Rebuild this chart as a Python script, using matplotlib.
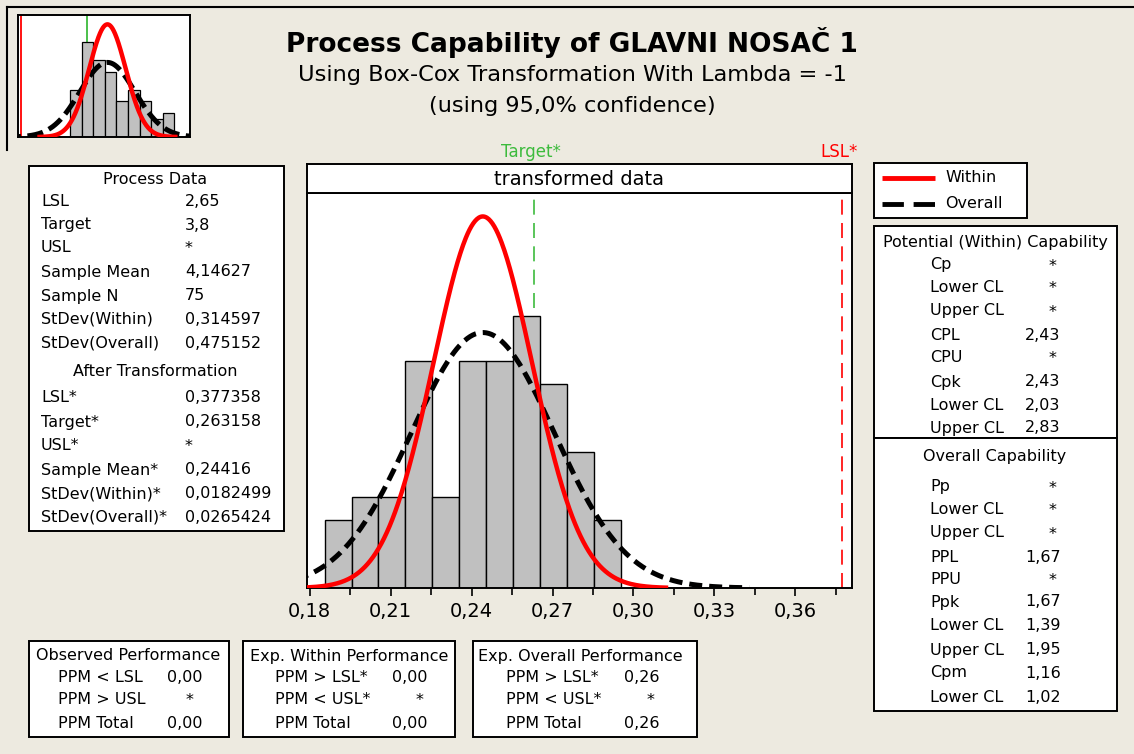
import numpy as np
import matplotlib
matplotlib.use("Agg")
import matplotlib.pyplot as plt
from matplotlib.patches import Rectangle
from matplotlib.ticker import FuncFormatter, FixedLocator

plt.rcParams["font.family"] = ["DejaVu Sans"]

W, H = 1134, 754
BG = "#EDEAE0"
RED = "#FF0000"
GREEN = "#3DBB3D"
BAR = "#C0C0C0"

# ---------------- data ----------------
lsl, target = 2.65, 3.8
sample_mean, sample_n = 4.14627, 75
sd_within, sd_overall = 0.314597, 0.475152
lsl_t, target_t = 0.377358, 0.263158
mean_t, sd_within_t, sd_overall_t = 0.24416, 0.0182499, 0.0265424

raw_bin_edges = [3.5, 3.7, 3.9, 4.1, 4.3, 4.5, 4.7, 4.9, 5.1, 5.3]
raw_counts = [8, 16, 13, 11, 6, 8, 6, 3, 4]

trans_bin_edges = [0.1855, 0.1955, 0.2055, 0.2155, 0.2255, 0.2355,
                   0.2455, 0.2555, 0.2655, 0.2755, 0.2855, 0.2955]
trans_counts = [3, 4, 4, 10, 4, 10, 10, 12, 9, 6, 3]

x_ticks = [0.18, 0.21, 0.24, 0.27, 0.30, 0.33, 0.36]

process_labels = ["LSL", "Target", "USL", "Sample Mean", "Sample N",
                  "StDev(Within)", "StDev(Overall)"]
process_values = ["2,65", "3,8", "*", "4,14627", "75", "0,314597", "0,475152"]
trans_labels = ["LSL*", "Target*", "USL*", "Sample Mean*", "StDev(Within)*",
                "StDev(Overall)*"]
trans_values = ["0,377358", "0,263158", "*", "0,24416", "0,0182499", "0,0265424"]

potential_labels = ["Cp", "Lower CL", "Upper CL", "CPL", "CPU", "Cpk",
                    "Lower CL", "Upper CL"]
potential_values = ["*", "*", "*", "2,43", "*", "2,43", "2,03", "2,83"]
overall_labels = ["Pp", "Lower CL", "Upper CL", "PPL", "PPU", "Ppk",
                  "Lower CL", "Upper CL", "Cpm", "Lower CL"]
overall_values = ["*", "*", "*", "1,67", "*", "1,67", "1,39", "1,95", "1,16", "1,02"]

observed_labels = ["PPM < LSL", "PPM > USL", "PPM Total"]
observed_values = ["0,00", "*", "0,00"]
exp_within_labels = ["PPM > LSL*", "PPM < USL*", "PPM Total"]
exp_within_values = ["0,00", "*", "0,00"]
exp_overall_labels = ["PPM > LSL*", "PPM < USL*", "PPM Total"]
exp_overall_values = ["0,26", "*", "0,26"]


def normal_curve(mu, sd, scale, k=3.72, n=400):
    x = np.linspace(mu - k * sd, mu + k * sd, n)
    y = scale * np.exp(-0.5 * ((x - mu) / sd) ** 2) / (sd * np.sqrt(2 * np.pi))
    return x, y


def fig_rect(x0, y0, x1, y1):
    """Pixel box (top-left origin) -> figure fraction rect."""
    return [x0 / W, 1 - y1 / H, (x1 - x0) / W, (y1 - y0) / H]


fig = plt.figure(figsize=(W / 100, H / 100), dpi=100, facecolor=BG)

# overlay in pixel coordinates for panels and text
ov = fig.add_axes([0, 0, 1, 1], zorder=0)
ov.set_xlim(0, W)
ov.set_ylim(H, 0)
ov.axis("off")


def box(x0, y0, x1, y1, lw=1.4):
    ov.add_patch(Rectangle((x0, y0), x1 - x0, y1 - y0, fc="white",
                           ec="black", lw=lw, zorder=1))


def txt(x, y, s, ha="left", size=11.5, **kw):
    ov.text(x, y, s, ha=ha, va="center", fontsize=size, zorder=3, **kw)


# outer frame lines
ov.plot([7, W], [7, 7], color="black", lw=1.5, zorder=2)
ov.plot([7, 7], [7, 150], color="black", lw=1.5, zorder=2)

# titles
txt(572, 42, "Process Capability of GLAVNI NOSAČ 1", ha="center", size=19,
    fontweight="bold")
txt(572, 75, "Using Box-Cox Transformation With Lambda = -1", ha="center", size=16.2)
txt(572, 106, "(using 95,0% confidence)", ha="center", size=16.2)

# ---- process data panel ----
box(29, 166, 284, 531)
txt(155, 180, "Process Data", ha="center")
row_y = [202, 225, 248, 272, 296, 319, 343]
for y, lab, val in zip(row_y, process_labels, process_values):
    txt(41, y, lab)
    txt(185, y, val)
txt(155, 372, "After Transformation", ha="center")
row_y = [398, 422, 446, 470, 494, 517]
for y, lab, val in zip(row_y, trans_labels, trans_values):
    txt(41, y, lab)
    txt(185, y, val)

# ---- legend ----
box(874, 163, 1027, 218)
ov.plot([882, 935], [178, 178], color=RED, lw=3.5, zorder=3, solid_capstyle="butt")
ov.plot([882, 935], [204, 204], color="black", lw=3.5, zorder=3,
        dashes=(4.4, 2.0), dash_capstyle="butt")
txt(945, 178, "Within")
txt(945, 204, "Overall")

# ---- capability panel ----
box(874, 226, 1117, 438)
box(874, 438, 1117, 711)
txt(995, 242, "Potential (Within) Capability", ha="center")
row_y = [265, 288, 311, 335, 358, 382, 405, 428]
for y, lab, val in zip(row_y, potential_labels, potential_values):
    txt(930, y, lab)
    if val == "*":
        txt(1053, y + 1, val, ha="center")
    else:
        txt(1025, y, val)
txt(995, 457, "Overall Capability", ha="center")
row_y = [487, 510, 533, 557, 579, 602, 626, 650, 673, 697]
for y, lab, val in zip(row_y, overall_labels, overall_values):
    txt(930, y, lab)
    if val == "*":
        txt(1053, y + 1, val, ha="center")
    else:
        txt(1025, y, val)

# ---- performance panels ----
perf = [
    ((29, 229), "Observed Performance", 36, 58, 167, 190,
     observed_labels, observed_values),
    ((243, 455), "Exp. Within Performance", 250, 275, 392, 420,
     exp_within_labels, exp_within_values),
    ((473, 697), "Exp. Overall Performance", 478, 506, 624, 651,
     exp_overall_labels, exp_overall_values),
]
for (x0, x1), title, tx, lx, vx, sx, labs, vals in perf:
    box(x0, 641, x1, 737)
    txt(tx, 656, title)
    for y, lab, val in zip([677, 700, 724], labs, vals):
        txt(lx, y, lab)
        if val == "*":
            txt(sx, y + 1, val, ha="center")
        else:
            txt(vx, y, val)

# ---- main histogram of transformed data ----
ax = fig.add_axes(fig_rect(307, 193, 852, 588), zorder=2)
ax.set_facecolor("white")
ax.set_xlim(0.179, 0.381)
ax.set_ylim(0, 17.43)
ax.axvline(target_t, color=GREEN, lw=1.2, dashes=(9, 5), zorder=1)
ax.axvline(lsl_t, color=RED, lw=1.2, dashes=(9, 5), zorder=1)
widths = np.diff(trans_bin_edges)
ax.bar(trans_bin_edges[:-1], trans_counts, width=widths, align="edge",
       color=BAR, edgecolor="black", lw=1.0, zorder=2)
bw = trans_bin_edges[1] - trans_bin_edges[0]
xo, yo = normal_curve(mean_t, sd_overall_t, sample_n * bw)
ax.plot(xo, yo, color="black", lw=3.6, dashes=(2.6, 1.4), zorder=3)
xw, yw = normal_curve(mean_t, sd_within_t, sample_n * bw)
ax.plot(xw, yw, color=RED, lw=3.2, zorder=4)
ax.xaxis.set_major_locator(FixedLocator(x_ticks))
ax.xaxis.set_minor_locator(FixedLocator([t + 0.015 for t in x_ticks]))
ax.xaxis.set_major_formatter(FuncFormatter(lambda v, p: f"{v:.2f}".replace(".", ",")))
ax.tick_params(axis="x", which="major", length=6, width=1.2, labelsize=14, pad=4)
ax.tick_params(axis="x", which="minor", length=5, width=1.2)
ax.set_yticks([])
for s in ax.spines.values():
    s.set_linewidth(1.4)

# strip header
strip = fig.add_axes(fig_rect(307, 164, 852, 193), zorder=2)
strip.set_xticks([])
strip.set_yticks([])
strip.set_facecolor("white")
for s in strip.spines.values():
    s.set_linewidth(1.4)
strip.text(0.5, 0.48, "transformed data", ha="center", va="center",
           fontsize=14, transform=strip.transAxes)

txt(531, 152, "Target*", ha="center", size=12, color=GREEN)
txt(839, 152, "LSL*", ha="center", size=12, color=RED)

# ---- thumbnail of raw data ----
th = fig.add_axes(fig_rect(18, 15, 190, 137), zorder=2)
th.set_facecolor("white")
th.set_xlim(2.604, 5.57)
th.set_ylim(0, 20.6)
th.axvline(lsl, color=RED, lw=1.3, zorder=1)
th.axvline(target, color=GREEN, lw=1.3, zorder=1)
th.bar(raw_bin_edges[:-1], raw_counts, width=np.diff(raw_bin_edges), align="edge",
       color=BAR, edgecolor="black", lw=0.9, zorder=2)
rbw = raw_bin_edges[1] - raw_bin_edges[0]
xo, yo = normal_curve(sample_mean, sd_overall, sample_n * rbw)
th.plot(xo, yo, color="black", lw=3.6, dashes=(3.2, 1.3), zorder=3)
xw, yw = normal_curve(sample_mean, sd_within, sample_n * rbw)
th.plot(xw, yw, color=RED, lw=3.2, zorder=4)
th.set_xticks([])
th.set_yticks([])
for s in th.spines.values():
    s.set_linewidth(1.4)

fig.savefig("out.png", dpi=100, facecolor=BG)
